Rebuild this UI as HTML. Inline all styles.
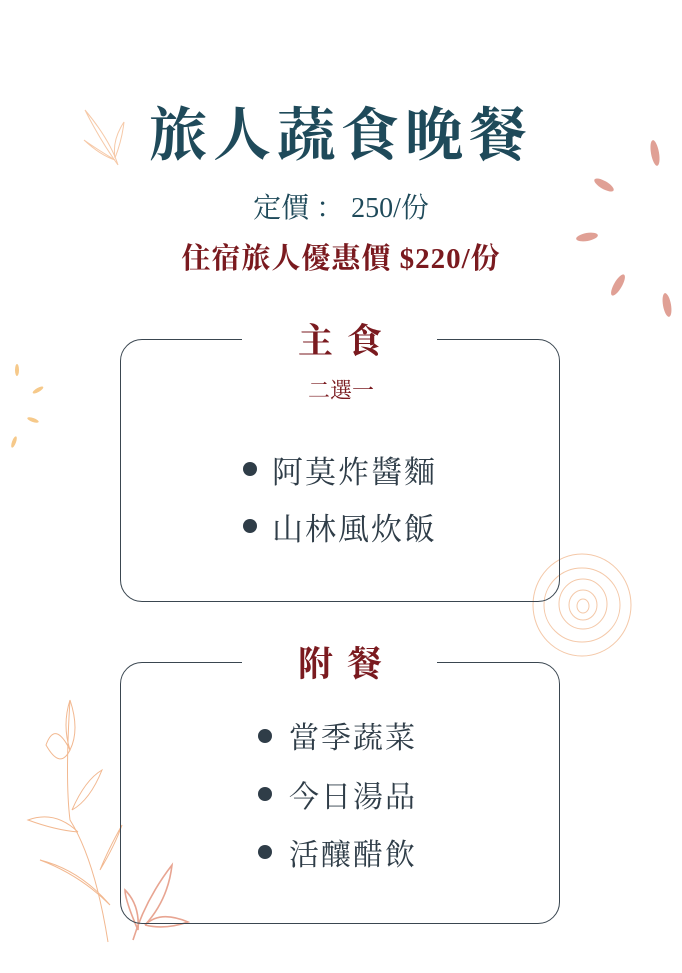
<!DOCTYPE html>
<html><head><meta charset="utf-8"><style>
body{margin:0;width:682px;height:973px;background:#fff;position:relative;overflow:hidden;font-family:"Liberation Serif","Noto Serif CJK SC",serif}
.t{position:absolute;left:0;width:682px;text-align:center;white-space:nowrap}
.box{position:absolute;left:120px;width:438px;border:1.3px solid #3a4650;border-radius:22px}
.gap{position:absolute;background:#fff;height:6px}
.it{position:absolute;white-space:nowrap;color:#2f3d48;font-size:31px;letter-spacing:2px}
.dot{position:absolute;width:14px;height:14px;border-radius:50%;background:#2f3d48}
</style></head><body>
<svg width="682" height="973" style="position:absolute;left:0;top:0">
<g fill="#e0a095">
<ellipse cx="655" cy="153" rx="4" ry="13" transform="rotate(-10 655 153)"/>
<ellipse cx="604" cy="185" rx="4" ry="11" transform="rotate(-60 604 185)"/>
<ellipse cx="587" cy="237" rx="4" ry="11" transform="rotate(80 587 237)"/>
<ellipse cx="618" cy="285" rx="4" ry="12" transform="rotate(30 618 285)"/>
<ellipse cx="667" cy="305" rx="4" ry="12" transform="rotate(-10 667 305)"/>
</g>
<g fill="#f6c98a">
<ellipse cx="17" cy="370" rx="2" ry="6"/>
<ellipse cx="38" cy="390" rx="2" ry="6" transform="rotate(60 38 390)"/>
<ellipse cx="33" cy="420" rx="2" ry="6" transform="rotate(-70 33 420)"/>
<ellipse cx="14" cy="442" rx="2" ry="6" transform="rotate(20 14 442)"/>
</g>
<g fill="none" stroke="#f4c8a8" stroke-width="1">
<ellipse cx="582" cy="605" rx="49" ry="51"/>
<ellipse cx="582" cy="605" rx="38" ry="37"/>
<ellipse cx="583" cy="604" rx="24" ry="25"/>
<ellipse cx="583" cy="605" rx="14" ry="15"/>
<ellipse cx="583" cy="606" rx="6" ry="7"/>
</g>
<g fill="none" stroke="#f6c9a8" stroke-width="1">
<path d="M118 165 Q110 140 85 110 Q100 140 118 165"/>
<path d="M115 160 Q95 148 84 140 Q100 155 115 160"/>
<path d="M115 158 Q122 140 124 122 Q112 140 115 158"/>
</g>
<g fill="none" stroke="#f2b890" stroke-width="1">
<path d="M108 942 Q95 860 70 820 Q65 780 70 700"/>
<path d="M70 700 Q80 730 70 750 Q62 725 70 700"/>
<path d="M70 750 Q55 720 46 745 Q60 770 70 750"/>
<path d="M72 810 Q85 780 102 770 Q90 800 72 810"/>
<path d="M78 832 Q55 810 28 820 Q55 830 78 832"/>
<path d="M100 870 Q115 845 122 825 Q108 850 100 870"/>
<path d="M110 905 Q80 875 40 860 Q80 870 110 905"/>
</g>
<g fill="none" stroke="#e8a592" stroke-width="1.6">
<path d="M133 940 Q145 900 172 865 Q168 900 145 925"/>
<path d="M138 930 Q125 900 125 890 Q140 905 138 930"/>
<path d="M145 925 Q160 910 188 922 Q165 930 145 925"/>
</g>
</svg>
<div class="t" style="top:88px;font-size:58px;font-weight:bold;color:#1f4a5a;letter-spacing:6px;left:0px">旅人蔬食晚餐</div>
<div class="t" style="top:186px;font-size:28px;color:#1f4a5a">定價 ：&nbsp;250/份</div>
<div class="t" style="top:236px;font-size:29px;font-weight:bold;color:#7a1a1f;letter-spacing:1px">住宿旅人優惠價 $220/份</div>

<div class="box" style="top:339px;height:261px"></div>
<div class="gap" style="left:242px;width:195px;top:336px"></div>
<div class="t" style="top:314px;font-size:35px;font-weight:bold;color:#7a1a1f;letter-spacing:14px;left:6px">主食</div>
<div class="t" style="top:374px;font-size:22px;color:#7a1a1f">二選一</div>
<div class="dot" style="left:243px;top:462px"></div>
<div class="it" style="left:272px;top:447px">阿莫炸醬麵</div>
<div class="dot" style="left:243px;top:519px"></div>
<div class="it" style="left:272px;top:504px">山林風炊飯</div>

<div class="box" style="top:662px;height:260px"></div>
<div class="gap" style="left:242px;width:195px;top:659px"></div>
<div class="t" style="top:637px;font-size:35px;font-weight:bold;color:#7a1a1f;letter-spacing:14px;left:6px">附餐</div>
<div class="dot" style="left:258px;top:729px"></div>
<div class="it" style="left:289px;top:713px;font-size:30px">當季蔬菜</div>
<div class="dot" style="left:258px;top:787px"></div>
<div class="it" style="left:289px;top:772px;font-size:30px">今日湯品</div>
<div class="dot" style="left:258px;top:845px"></div>
<div class="it" style="left:289px;top:830px;font-size:30px">活釀醋飲</div>
</body></html>
